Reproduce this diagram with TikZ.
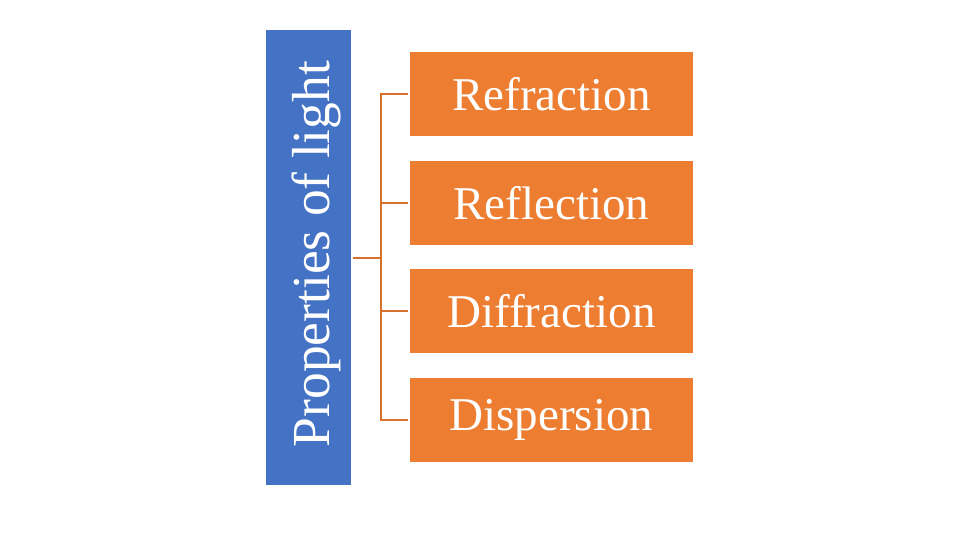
\documentclass[tikz,border=0pt]{standalone}
\usepackage{fontspec}
\setmainfont{Liberation Serif}
\definecolor{lightblue}{HTML}{4472C4}
\definecolor{lightorange}{HTML}{ED7D31}
\tikzset{
  propbox/.style={draw=none, fill=lightblue, minimum width=85pt, minimum height=455pt, inner sep=0pt},
  itembox/.style={draw=none, fill=lightorange, minimum width=283pt, minimum height=84pt, inner sep=0pt,
    text=white, font=\fontsize{47}{50}\selectfont},
  link/.style={draw=lightorange!90!black, line width=1.5pt}
}
\begin{document}
\begin{tikzpicture}[x=1pt,y=-1pt]
\useasboundingbox (0,0) rectangle (960,540);
% Title
\node[propbox] (prop) at (308.5,257.5) {};
\node[rotate=90, anchor=base, inner sep=0pt, text=white, font=\fontsize{53.5}{56}\selectfont] (title) at (329,254) {Properties of light};

% Items
\node[itembox] (refr) at (551.5,94) {Refraction};
\node[itembox] (refl) at (551.5,203) {Reflection};
\node[itembox] (diff) at (551.5,311) {Diffraction};
\node[itembox] (disp) at (551.5,420) {Dispersion};

% Connectors
\coordinate (bus) at (381,258);
\draw[link, shorten <=2pt] (prop.east |- bus) -- (bus);
\draw[link, shorten >=2pt] (bus) |- (refr.west);
\draw[link, shorten >=2pt] (bus) |- (refl.west);
\draw[link, shorten >=2pt] (bus) |- (diff.west);
\draw[link, shorten >=2pt] (bus) |- (disp.west);
\end{tikzpicture}
\end{document}
